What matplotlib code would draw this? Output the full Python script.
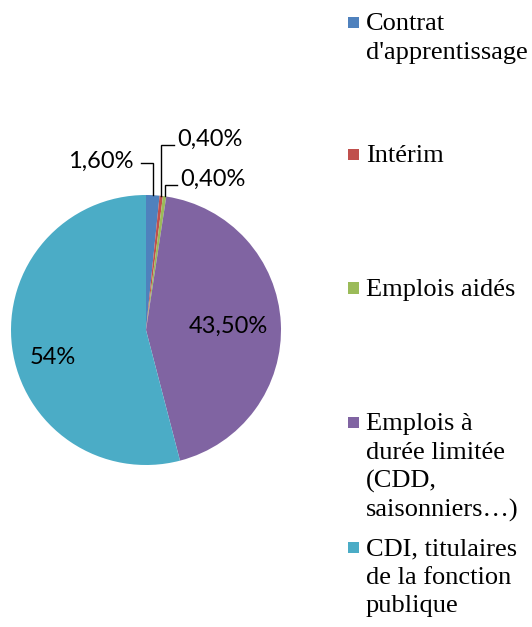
import numpy as np
import matplotlib
matplotlib.use("Agg")
import matplotlib.pyplot as plt
from matplotlib.patches import Rectangle

categories = ["Contrat\nd'apprentissage", "Intérim", "Emplois aidés",
              "Emplois à\ndurée limitée\n(CDD,\nsaisonniers…)",
              "CDI, titulaires\nde la fonction\npublique"]
values = [1.6, 0.4, 0.4, 43.5, 54.0]
labels = ["1,60%", "0,40%", "0,40%", "43,50%", "54%"]
colors = ["#4F81BD", "#C0504D", "#9BBB59", "#8064A2", "#4BACC6"]

W, H = 532, 627
fig = plt.figure(figsize=(W / 100, H / 100), dpi=100)

cx, cy, R = 146, 330, 135
ax = fig.add_axes([(cx - R) / W, (H - cy - R) / H, 2 * R / W, 2 * R / H])
wedges, _ = ax.pie(values, colors=colors, startangle=90, counterclock=False,
                   radius=1, wedgeprops=dict(linewidth=0))
ax.set_xlim(-1, 1)
ax.set_ylim(-1, 1)
ax.set_aspect("equal")
ax.axis("off")

def d(px, py):
    return (px - cx) / R, (cy - py) / R

label_font = dict(family=["Lato", "DejaVu Sans"], fontsize=17, color="#000000")

# inside labels
ax.text(*d(228, 326), labels[3], ha="center", va="center", **label_font)
ax.text(*d(53, 357), labels[4], ha="center", va="center", **label_font)

# outside labels with elbow leader lines
fracs = np.array(values) / np.sum(values)
starts = 90 - 360 * np.concatenate([[0], np.cumsum(fracs)[:-1]])
mids = starts - 180 * fracs
outside = [(0, (101, 161), (141, 163)), (1, (210, 139), (174, 145)), (2, (213, 179), (177, 185))]
for i, lpos, anchor in outside:
    ax.text(*d(*lpos), labels[i], ha="center", va="center", clip_on=False, **label_font)
    a = np.deg2rad(mids[i])
    ex, ey = np.cos(a), np.sin(a)
    ax_, ay_ = d(*anchor)
    ax.plot([ax_, ex, ex], [ay_, ay_, ey], color="black", lw=1.0, clip_on=False,
            solid_joinstyle="miter")

# legend
leg_base = [30, 162, 296, 430, 555]
line_step = 28.7
for cat, col, yb in zip(categories, colors, leg_base):
    fig.patches.append(Rectangle((348 / W, (H - yb + 2.5) / H), 11 / W, 11 / H,
                                 transform=fig.transFigure, color=col, lw=0))
    for k, line in enumerate(cat.split("\n")):
        fig.text(366 / W, (H - yb - k * line_step) / H, line, ha="left", va="baseline",
                 family=["Liberation Serif"], fontsize=19, color="black")

fig.savefig("out.png", dpi=100)
